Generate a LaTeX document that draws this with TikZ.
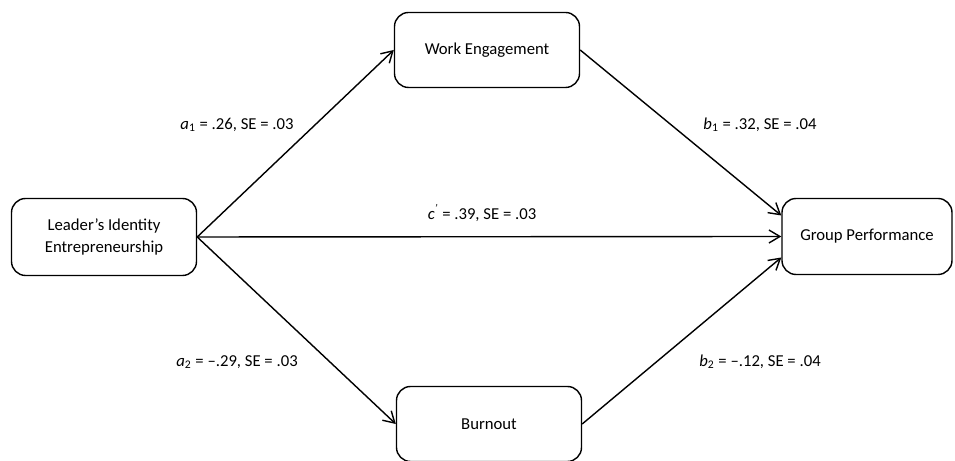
\documentclass[tikz,border=0pt]{standalone}
\usepackage{fontspec}
\setmainfont{Carlito}
\usepackage{xcolor}
\usepackage{tikz}
\usetikzlibrary{positioning, arrows.meta, calc}

\tikzset{
    box/.style={draw, thick, rounded corners=8pt, minimum width=3.7cm, minimum height=1.5cm, align=center, font=\fontsize{9.5}{12}\selectfont},
    path/.style={-{Straight Barb[length=2.2mm, width=2.6mm]}, thick},
    coef/.style={font=\fontsize{9.5}{12}\selectfont}
}

\begin{document}
\begin{tikzpicture}
    \useasboundingbox (0,0) rectangle (19.1,9.22);

    % Variables
    \node[box, minimum height=1.54cm] (leader) at (2.08,4.48) {Leader's Identity\\Entrepreneurship};
    \node[box] (engage) at (9.74,8.22) {Work Engagement};
    \node[box] (burnout) at (9.78,0.74) {Burnout};
    \node[box, minimum width=3.4cm, minimum height=1.52cm] (perf) at (17.34,4.49) {Group Performance};

    % Paths
    \draw[path] (leader.east) -- (engage.west);
    \draw[path] (leader.east) -- (burnout.west);
    \draw[path] (leader.east) -- (perf.west);
    \draw[path] (engage.east) -- ([yshift=4.2mm]perf.west);
    \draw[path] (burnout.east) -- ([yshift=-4.2mm]perf.west);

    % Coefficients
    \node[coef] (a1) at (4.74,6.72) {\textit{a}\textsubscript{1} = .26, SE = .03};
    \node[coef] (b1) at (15.2,6.72) {\textit{b}\textsubscript{1} = .32, SE = .04};
    \node[coef] (c) at (9.64,4.96) {\textit{c}\textsuperscript{\textit{'}} = .39, SE = .03};
    \node[coef] (a2) at (4.74,1.98) {\textit{a}\textsubscript{2} = --.29, SE = .03};
    \node[coef] (b2) at (15.2,1.98) {\textit{b}\textsubscript{2} = --.12, SE = .04};

\end{tikzpicture}
\end{document}
